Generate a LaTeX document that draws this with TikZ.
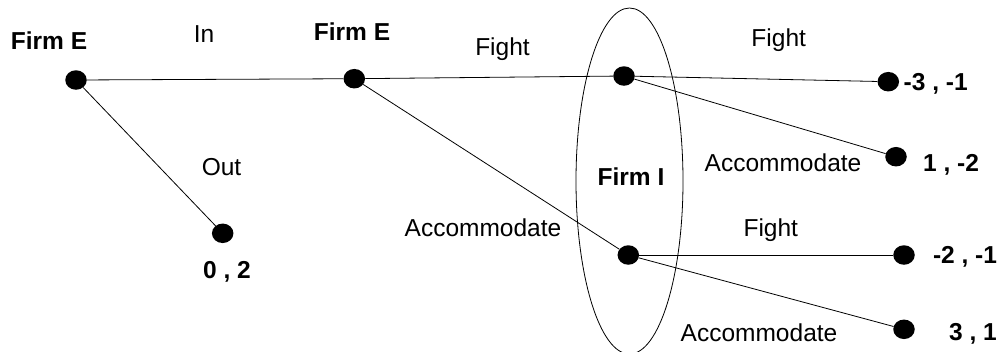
\documentclass[tikz,border=0pt]{standalone}
\usepackage{fontspec}
\setmainfont{Liberation Sans}
\usetikzlibrary{shapes.geometric}
\tikzset{
  decision/.style={ellipse, fill=black, inner sep=0pt, minimum width=21.5bp, minimum height=19.5bp},
  branch/.style={draw=black, line width=0.8bp},
  movelabel/.style={anchor=base, inner sep=0pt, font=\fontsize{24.6}{29}\selectfont},
  playerlabel/.style={anchor=base, inner sep=0pt, font=\fontsize{24.6}{29}\selectfont\bfseries},
  infoset/.style={ellipse, draw=black, line width=0.8bp, inner sep=0pt, minimum width=107bp, minimum height=346bp}
}
\begin{document}
\begin{tikzpicture}[x=1bp, y=-1bp]
  \fill[white] (0,0) rectangle (1000,351);
  \useasboundingbox (0,0) rectangle (1000,351);

  % information set of the incumbent
  \node[infoset] (iset) at (629.5,181) {};

  % decision nodes and terminal nodes
  \node[decision] (root) at (76,80) {};
  \node[decision] (entrant) at (354.3,78.7) {};
  \node[decision] (stayout) at (222.7,233.3) {};
  \node[decision] (incF) at (624,76) {};
  \node[decision] (incA) at (628.3,255) {};
  \node[decision] (endFF) at (888.3,81.7) {};
  \node[decision] (endFA) at (896,156.7) {};
  \node[decision] (endAF) at (904,255) {};
  \node[decision] (endAA) at (904,329.3) {};

  % branches
  \draw[branch] (root) -- (entrant);
  \draw[branch] (root) -- (stayout);
  \draw[branch] (entrant) -- (incF);
  \draw[branch] (entrant) -- (incA);
  \draw[branch] (incF) -- (endFF);
  \draw[branch] (incF) -- (endFA);
  \draw[branch] (incA) -- (endAF);
  \draw[branch] (incA) -- (endAA);

  % players
  \node[playerlabel] (pE1) at (49,49.3) {Firm E};
  \node[playerlabel] (pE2) at (352,40.7) {Firm E};
  \node[playerlabel] (pI) at (631,185) {Firm I};

  % moves
  \node[movelabel] (mIn) at (204,42.3) {In};
  \node[movelabel] (mOut) at (221.5,175) {Out};
  \node[movelabel] (mEF) at (502.5,55) {Fight};
  \node[movelabel] (mEA) at (483,236.7) {Accommodate};
  \node[movelabel] (mFF) at (778.7,46.7) {Fight};
  \node[movelabel] (mFA) at (783,171.7) {Accommodate};
  \node[movelabel] (mAF) at (770.8,236.7) {Fight};
  \node[movelabel] (mAA) at (759,341.7) {Accommodate};

  % payoffs
  \node[playerlabel] (pay0) at (227,278.3) {0 , 2};
  \node[playerlabel] (pay1) at (935.7,90) {-3 , -1};
  \node[playerlabel] (pay2) at (951,171.7) {1 , -2};
  \node[playerlabel] (pay3) at (965,263.3) {-2 , -1};
  \node[playerlabel] (pay4) at (973,340) {3 , 1};
\end{tikzpicture}
\end{document}
